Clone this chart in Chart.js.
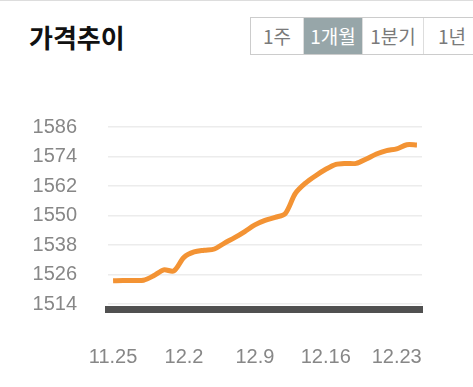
<!DOCTYPE html>
<html>
<head>
<meta charset="utf-8">
<script src="https://cdn.jsdelivr.net/npm/chart.js@4"></script>
<style>
  html, body { margin: 0; padding: 0; background: #fff; }
  body { width: 473px; height: 387px; position: relative; overflow: hidden; border-top: 1px solid #ddd; box-sizing: border-box; }
  .title { position: absolute; left: 29px; top: 19px; font-family: "Noto Sans CJK KR", sans-serif; font-weight: bold; font-size: 26px; color: #111; line-height: 34px; }
  .tabs { position: absolute; left: 250px; top: 16px; height: 36px; display: flex; border: 1px solid #ccc; }
  .tabs div { height: 36px; line-height: 36px; text-align: center; font-family: "Noto Sans CJK KR", sans-serif; font-size: 19px; color: #7a7a7a; border-right: 1px solid #ddd; box-sizing: border-box; }
  .tabs .on { background: #97a6a9; color: #fff; }
  #wrap { position: absolute; left: 0; top: 0; width: 473px; height: 387px; }
</style>
</head>
<body>
<div class="title">가격추이</div>
<div class="tabs">
  <div style="width:53px">1주</div>
  <div class="on" style="width:59px">1개월</div>
  <div style="width:61px">1분기</div>
  <div style="width:57px">1년</div>
</div>
<div id="wrap"><canvas id="price-chart"></canvas></div>
<script>
// daily dates, 11.25 ~ 12.25
const dates = ["11.25","11.26","11.27","11.28","11.29","11.30","12.1","12.2","12.3","12.4",
  "12.5","12.6","12.7","12.8","12.9","12.10","12.11","12.12","12.13","12.14",
  "12.15","12.16","12.17","12.18","12.19","12.20","12.21","12.22","12.23","12.24","12.25"];
const prices = [1523.5,1523.6,1523.6,1523.7,1525.5,1527.9,1527.5,1533.0,1535.2,1535.9,
  1536.4,1538.8,1541.0,1543.5,1546.2,1548.0,1549.3,1550.8,1559.0,1563.2,
  1566.2,1568.8,1570.8,1571.2,1571.2,1573.0,1575.0,1576.4,1577.1,1578.8,1578.7];
const xTickLabels = ["11.25","12.2","12.9","12.16","12.23"];
const yTickValues = [1514,1526,1538,1550,1562,1574,1586];

const font = {family: "'Liberation Sans', Arial, sans-serif", size: 20};

new Chart("price-chart", {
    type: "line",
    data: {
        labels: dates,
        datasets: [{
            data: prices,
            borderColor: "#f39334",
            borderWidth: 5,
            pointRadius: 0,
            tension: 0.3,
            fill: false
        }]
    },
    options: {
        responsive: true,
        maintainAspectRatio: false,
        animation: false,
        layout: {padding: {top: 126, right: 51, left: 0, bottom: 0}},
        plugins: {legend: {display: false}, tooltip: {enabled: false}},
        scales: {
            x: {
                offset: true,
                grid: {display: false, drawTicks: false},
                border: {display: true, color: "#505050", width: 7},
                ticks: {
                    autoSkip: false,
                    maxRotation: 0,
                    padding: 36,
                    color: "#878787",
                    font: font,
                    callback: (v, i) => xTickLabels.includes(dates[i]) ? dates[i] : ""
                },
                afterFit: s => { s.height = 79; }
            },
            y: {
                min: 1512,
                max: 1586,
                afterBuildTicks: s => { s.ticks = yTickValues.map(v => ({value: v})); },
                grid: {color: "#ececec", lineWidth: 1.5, drawTicks: false},
                border: {display: false},
                ticks: {padding: 31, color: "#878787", font: font, callback: v => String(v)},
                afterFit: s => { s.width = 108; }
            }
        }
    }
});
</script>
</body>
</html>
